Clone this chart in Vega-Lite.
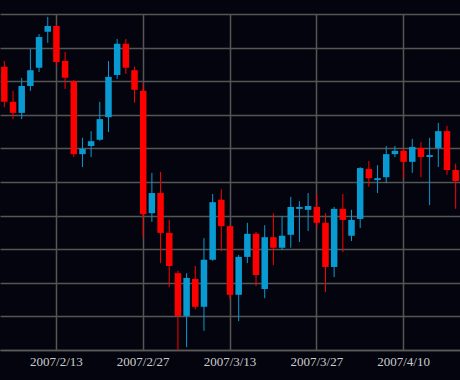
{
  "$schema": "https://vega.github.io/schema/vega-lite/v6.json",
  "width": 460,
  "height": 336,
  "autosize": {"type": "none"},
  "padding": {"left": 0, "top": 14, "right": 0, "bottom": 30},
  "background": "#04040e",
  "config": {"view": {"stroke": null}},
  "data": {"values": [
    {"date": "2007/2/5", "open": 120.90, "high": 121.02, "low": 120.06, "close": 120.17},
    {"date": "2007/2/6", "open": 120.17, "high": 120.40, "low": 119.81, "close": 119.94},
    {"date": "2007/2/7", "open": 119.94, "high": 120.67, "low": 119.81, "close": 120.50},
    {"date": "2007/2/8", "open": 120.50, "high": 121.27, "low": 120.40, "close": 120.83},
    {"date": "2007/2/9", "open": 120.88, "high": 121.58, "low": 120.79, "close": 121.52},
    {"date": "2007/2/12", "open": 121.63, "high": 121.94, "low": 121.40, "close": 121.75},
    {"date": "2007/2/13", "open": 121.75, "high": 121.77, "low": 120.90, "close": 121.00},
    {"date": "2007/2/14", "open": 121.02, "high": 121.21, "low": 120.44, "close": 120.67},
    {"date": "2007/2/15", "open": 120.60, "high": 120.62, "low": 119.02, "close": 119.08},
    {"date": "2007/2/16", "open": 119.08, "high": 119.42, "low": 118.81, "close": 119.19},
    {"date": "2007/2/19", "open": 119.25, "high": 119.56, "low": 119.02, "close": 119.35},
    {"date": "2007/2/20", "open": 119.38, "high": 120.17, "low": 119.36, "close": 119.81},
    {"date": "2007/2/21", "open": 119.85, "high": 121.02, "low": 119.54, "close": 120.69},
    {"date": "2007/2/22", "open": 120.73, "high": 121.48, "low": 120.65, "close": 121.38},
    {"date": "2007/2/23", "open": 121.38, "high": 121.48, "low": 120.75, "close": 120.88},
    {"date": "2007/2/26", "open": 120.83, "high": 120.90, "low": 120.15, "close": 120.42},
    {"date": "2007/2/27", "open": 120.40, "high": 120.56, "low": 117.35, "close": 117.83},
    {"date": "2007/2/28", "open": 117.85, "high": 118.69, "low": 117.67, "close": 118.27},
    {"date": "2007/3/1", "open": 118.27, "high": 118.71, "low": 116.81, "close": 117.44},
    {"date": "2007/3/2", "open": 117.44, "high": 117.71, "low": 116.31, "close": 116.75},
    {"date": "2007/3/5", "open": 116.60, "high": 116.65, "low": 115.00, "close": 115.71},
    {"date": "2007/3/6", "open": 115.71, "high": 116.60, "low": 115.06, "close": 116.50},
    {"date": "2007/3/7", "open": 116.48, "high": 116.75, "low": 115.85, "close": 115.90},
    {"date": "2007/3/8", "open": 115.90, "high": 117.33, "low": 115.40, "close": 116.88},
    {"date": "2007/3/9", "open": 116.88, "high": 118.25, "low": 116.86, "close": 118.08},
    {"date": "2007/3/12", "open": 118.13, "high": 118.35, "low": 117.06, "close": 117.58},
    {"date": "2007/3/13", "open": 117.58, "high": 117.60, "low": 116.06, "close": 116.15},
    {"date": "2007/3/14", "open": 116.15, "high": 116.98, "low": 115.60, "close": 116.94},
    {"date": "2007/3/15", "open": 116.94, "high": 117.65, "low": 116.81, "close": 117.42},
    {"date": "2007/3/16", "open": 117.42, "high": 117.46, "low": 116.33, "close": 116.56},
    {"date": "2007/3/19", "open": 116.27, "high": 117.60, "low": 116.08, "close": 117.35},
    {"date": "2007/3/20", "open": 117.35, "high": 117.85, "low": 116.77, "close": 117.13},
    {"date": "2007/3/21", "open": 117.13, "high": 117.79, "low": 117.08, "close": 117.38},
    {"date": "2007/3/22", "open": 117.40, "high": 118.19, "low": 117.13, "close": 117.98},
    {"date": "2007/3/23", "open": 117.94, "high": 118.10, "low": 117.25, "close": 117.98},
    {"date": "2007/3/26", "open": 117.92, "high": 118.27, "low": 117.48, "close": 118.00},
    {"date": "2007/3/27", "open": 117.98, "high": 118.25, "low": 117.54, "close": 117.65},
    {"date": "2007/3/28", "open": 117.65, "high": 117.85, "low": 116.21, "close": 116.73},
    {"date": "2007/3/29", "open": 116.73, "high": 117.98, "low": 116.52, "close": 117.94},
    {"date": "2007/3/30", "open": 117.94, "high": 118.25, "low": 117.04, "close": 117.71},
    {"date": "2007/4/2", "open": 117.38, "high": 117.92, "low": 117.27, "close": 117.71},
    {"date": "2007/4/3", "open": 117.73, "high": 118.81, "low": 117.54, "close": 118.79},
    {"date": "2007/4/4", "open": 118.77, "high": 118.94, "low": 118.40, "close": 118.58},
    {"date": "2007/4/5", "open": 118.54, "high": 118.85, "low": 118.27, "close": 118.58},
    {"date": "2007/4/6", "open": 118.60, "high": 119.25, "low": 118.48, "close": 119.08},
    {"date": "2007/4/9", "open": 119.08, "high": 119.25, "low": 119.02, "close": 119.15},
    {"date": "2007/4/10", "open": 119.15, "high": 119.21, "low": 118.58, "close": 118.92},
    {"date": "2007/4/11", "open": 118.92, "high": 119.40, "low": 118.69, "close": 119.23},
    {"date": "2007/4/12", "open": 119.21, "high": 119.33, "low": 118.60, "close": 119.02},
    {"date": "2007/4/13", "open": 119.02, "high": 119.42, "low": 118.02, "close": 119.06},
    {"date": "2007/4/16", "open": 119.21, "high": 119.73, "low": 118.81, "close": 119.56},
    {"date": "2007/4/17", "open": 119.56, "high": 119.67, "low": 118.65, "close": 118.75},
    {"date": "2007/4/18", "open": 118.75, "high": 118.88, "low": 117.94, "close": 118.52}
  ]},
  "encoding": {
    "x": {
      "field": "date",
      "type": "ordinal",
      "sort": null,
      "scale": {"paddingInner": 0, "paddingOuter": 0},
      "axis": {
        "title": null,
        "values": ["2007/2/13", "2007/2/27", "2007/3/13", "2007/3/27", "2007/4/10"],
        "labelAngle": 0,
        "bandPosition": 0.5,
        "grid": true,
        "gridColor": "#555555",
        "gridWidth": 1.5,
        "ticks": false,
        "domain": true,
        "domainColor": "#5a5a5a",
        "domainWidth": 1.5,
        "labelFont": "Liberation Serif",
        "labelFontSize": 13,
        "labelColor": "#cccccc",
        "labelPadding": 5
      }
    }
  },
  "layer": [
    {
      "mark": {"type": "rule", "strokeWidth": 1},
      "encoding": {
        "y": {
          "field": "low",
          "type": "quantitative",
          "scale": {"domain": [115, 122], "nice": false, "zero": false},
          "axis": {
            "title": null,
            "values": [115, 115.7, 116.4, 117.1, 117.8, 118.5, 119.2, 119.9, 120.6, 121.3, 122.0],
            "tickCount": 30,
            "labels": false,
            "ticks": false,
            "domain": false,
            "grid": true,
            "gridColor": "#555555",
            "gridWidth": 1.5
          }
        },
        "y2": {"field": "high"},
        "color": {
          "condition": {"test": "datum.open < datum.close", "value": "#0a9ad2"},
          "value": "#ff0000"
        }
      }
    },
    {
      "mark": {"type": "bar", "width": 6.5},
      "encoding": {
        "y": {"field": "open", "type": "quantitative"},
        "y2": {"field": "close"},
        "color": {
          "condition": {"test": "datum.open < datum.close", "value": "#0a9ad2"},
          "value": "#ff0000"
        }
      }
    }
  ]
}
